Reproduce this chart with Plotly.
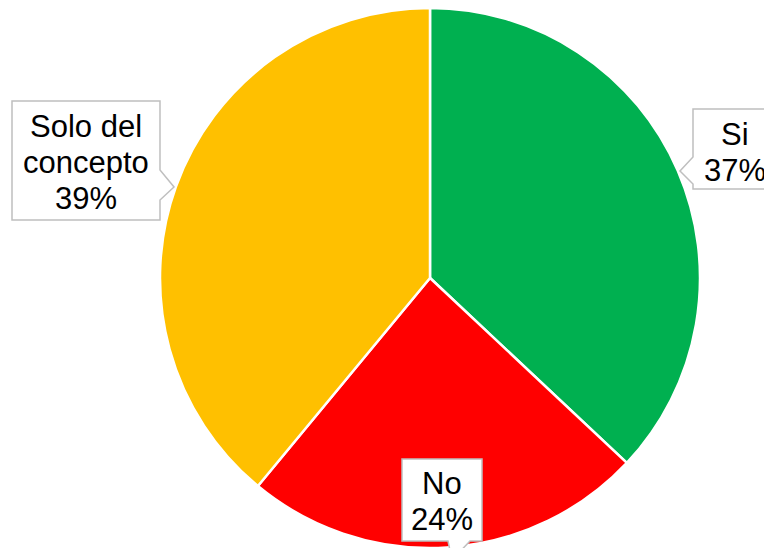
import plotly.graph_objects as go

# Survey answers, drawn clockwise from 12 o'clock
categories = ["Si", "No", "Solo del concepto"]
shares = [37, 24, 39]
colors = ["#00B050", "#FF0000", "#FFC000"]
label_lines = [["Si"], ["No"], ["Solo del", "concepto"]]

W, H = 764, 548
LINE_GAP = 36  # pixel distance between label lines


def px(x):
    return x / W


def py(y):
    return 1 - y / H


fig = go.Figure(
    go.Pie(
        labels=categories,
        values=shares,
        sort=False,
        direction="clockwise",
        rotation=0,
        marker=dict(colors=colors, line=dict(color="white", width=2.5)),
        textinfo="none",
        hoverinfo="label+percent",
        showlegend=False,
        domain=dict(x=[px(160), px(700)], y=[0, py(8)]),
    )
)

# Callout outlines (box + pointer) in pixel space
callouts = [
    # Si: pointer on the left edge
    [(693, 109), (780, 109), (780, 189), (693, 189), (693, 184), (680, 171), (693, 157)],
    # No: pointer on the bottom edge
    [(402, 459), (482, 459), (482, 541), (470, 541), (452, 560), (448, 541), (402, 541)],
    # Solo del concepto: pointer on the right edge
    [(12, 101), (160, 101), (160, 170), (174, 187), (160, 200), (160, 220), (12, 220)],
]
# Text centers for each callout
text_centers = [(735, 152), (442, 501), (86, 162)]

shapes = []
for pts in callouts:
    path = "M " + " L ".join(f"{px(x):.5f},{py(y):.5f}" for x, y in pts) + " Z"
    shapes.append(
        dict(
            type="path",
            path=path,
            xref="paper",
            yref="paper",
            fillcolor="white",
            line=dict(color="#BFBFBF", width=1.5),
            layer="above",
        )
    )

annotations = []
for lines, share, (cx, cy) in zip(label_lines, shares, text_centers):
    rows = lines + [f"{share}%"]
    n = len(rows)
    for i, row in enumerate(rows):
        ly = cy + (i - (n - 1) / 2) * LINE_GAP
        annotations.append(
            dict(
                text=row,
                x=px(cx),
                y=py(ly),
                xref="paper",
                yref="paper",
                xanchor="center",
                yanchor="middle",
                showarrow=False,
                font=dict(family="Liberation Sans, Arial, sans-serif", size=31, color="black"),
            )
        )

fig.update_layout(
    width=W,
    height=H,
    margin=dict(l=0, r=0, t=0, b=0),
    paper_bgcolor="white",
    plot_bgcolor="white",
    shapes=shapes,
    annotations=annotations,
)

fig.write_html("out.html")
